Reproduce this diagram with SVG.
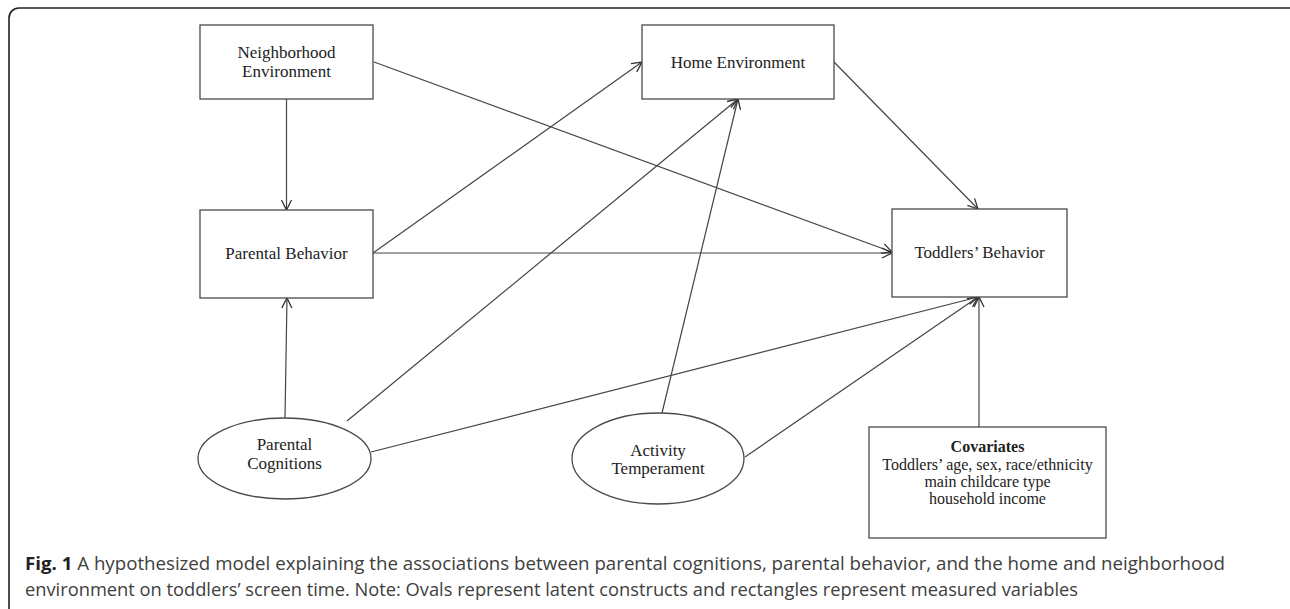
<svg xmlns="http://www.w3.org/2000/svg" width="1290" height="609" viewBox="0 0 1290 609">
<style>
.box{fill:#fff;stroke:#4a4a4a;stroke-width:1.3}
.lbl{font-family:"Liberation Serif","Times New Roman",serif;font-size:17px;fill:#222;text-anchor:middle}
.cov{font-family:"Liberation Serif","Times New Roman",serif;font-size:16px;fill:#222;text-anchor:middle}
.edge{fill:none;stroke:#444;stroke-width:1.2}
.cap{font-family:"Open Sans","Liberation Sans",sans-serif;font-size:18px;fill:#404040}
</style>
<defs>
<marker id="arr" markerUnits="userSpaceOnUse" markerWidth="14" markerHeight="14" viewBox="0 0 14 14" refX="12" refY="7" orient="auto">
<path d="M2,2 L12,7 L2,12" fill="none" stroke="#333" stroke-width="1.3"/>
</marker>
</defs>
<rect x="9" y="8" width="1300" height="620" rx="10" fill="#fff" stroke="#222" stroke-width="1.6"/>
<g id="connectors">
<line class="edge" x1="286.5" y1="99" x2="286.5" y2="210" marker-end="url(#arr)"/>
<line class="edge" x1="374" y1="62" x2="892" y2="252" marker-end="url(#arr)"/>
<line class="edge" x1="373" y1="253" x2="642" y2="62" marker-end="url(#arr)"/>
<line class="edge" x1="373" y1="253" x2="892" y2="253" marker-end="url(#arr)"/>
<line class="edge" x1="347" y1="421" x2="738" y2="99" marker-end="url(#arr)"/>
<line class="edge" x1="662" y1="413" x2="738" y2="99" marker-end="url(#arr)"/>
<line class="edge" x1="371" y1="452" x2="978" y2="297" marker-end="url(#arr)"/>
<line class="edge" x1="745" y1="457" x2="978" y2="297" marker-end="url(#arr)"/>
<line class="edge" x1="979" y1="427" x2="979" y2="297" marker-end="url(#arr)"/>
<line class="edge" x1="834" y1="62" x2="978" y2="209" marker-end="url(#arr)"/>
<line class="edge" x1="285" y1="418" x2="287" y2="298" marker-end="url(#arr)"/>
</g>
<g id="neighborhood">
<rect class="box" x="200" y="25" width="173" height="74"/>
<text class="lbl" x="286.5" y="58">Neighborhood</text>
<text class="lbl" x="286.5" y="77">Environment</text>
</g>
<g id="home">
<rect class="box" x="642" y="25" width="192" height="74"/>
<text class="lbl" x="738" y="68">Home Environment</text>
</g>
<g id="parental-behavior">
<rect class="box" x="200" y="210" width="173" height="88"/>
<text class="lbl" x="286.5" y="259">Parental Behavior</text>
</g>
<g id="toddlers-behavior">
<rect class="box" x="892" y="209" width="175" height="88"/>
<text class="lbl" x="979.5" y="258">Toddlers’ Behavior</text>
</g>
<g id="covariates">
<rect class="box" x="869" y="427" width="237" height="111"/>
<text class="cov" x="987.5" y="452" font-weight="bold">Covariates</text>
<text class="cov" x="987.5" y="470">Toddlers’ age, sex, race/ethnicity</text>
<text class="cov" x="987.5" y="487">main childcare type</text>
<text class="cov" x="987.5" y="504">household income</text>
</g>
<g id="parental-cognitions">
<ellipse class="box" cx="284.5" cy="458.5" rx="86.5" ry="40.5"/>
<text class="lbl" x="284.5" y="450">Parental</text>
<text class="lbl" x="284.5" y="469">Cognitions</text>
</g>
<g id="activity-temperament">
<ellipse class="box" cx="658" cy="458.5" rx="86" ry="45.5"/>
<text class="lbl" x="658" y="456">Activity</text>
<text class="lbl" x="658" y="474">Temperament</text>
</g>
<g id="caption">
<text class="cap" x="25" y="570" textLength="1200" lengthAdjust="spacingAndGlyphs"><tspan font-weight="bold" fill="#222">Fig. 1</tspan> A hypothesized model explaining the associations between parental cognitions, parental behavior, and the home and neighborhood</text>
<text class="cap" x="25" y="596" textLength="1053" lengthAdjust="spacingAndGlyphs">environment on toddlers’ screen time. Note: Ovals represent latent constructs and rectangles represent measured variables</text>
</g>
</svg>
